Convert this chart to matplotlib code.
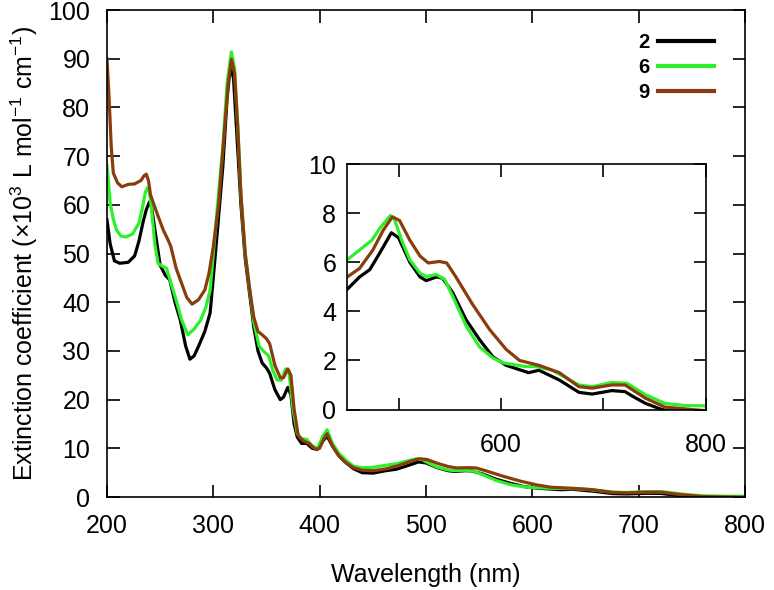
import matplotlib
matplotlib.use("Agg")
import matplotlib.pyplot as plt
import numpy as np

plt.rcParams['font.family'] = ['Liberation Sans', 'DejaVu Sans']
plt.rcParams['mathtext.fontset'] = 'custom'
plt.rcParams['mathtext.rm'] = 'Liberation Sans'
plt.rcParams['mathtext.it'] = 'Liberation Sans:italic'
plt.rcParams['mathtext.bf'] = 'Liberation Sans:bold'

# ---- data (nm, extinction x10^3) ----
wl_2 = [200, 203, 207, 212, 220, 226, 230, 234, 237, 240, 242, 245, 250, 255, 259, 264, 269,
        274, 278, 282, 286, 292, 297, 300, 304, 309, 313, 316, 319, 322, 326, 330, 334, 338,
        342, 346, 350, 353, 358, 363, 366, 370, 373, 376, 379, 383, 388, 393, 398, 403, 407,
        412, 418, 425, 432, 440, 450, 462, 472, 482, 493, 500, 511, 521, 527, 537, 543, 553,
        566, 579, 592, 605, 627, 637, 657, 676, 689, 708, 721, 728, 741, 757, 770, 785, 800]
ext_2 = [56.9, 52.0, 48.5, 48.0, 48.2, 49.5, 52.5, 56.5, 59.0, 60.6, 59.5, 55.0, 47.6, 45.5,
         44.6, 40.0, 36.3, 31.0, 28.3, 29.0, 30.9, 34.0, 37.8, 45.0, 55.0, 68.0, 82.0, 88.4,
         86.0, 75.0, 60.0, 49.0, 42.0, 35.0, 30.0, 27.5, 26.5, 25.4, 22.0, 20.0, 20.5, 22.5,
         21.0, 15.0, 12.3, 11.0, 11.0, 10.0, 9.8, 11.5, 12.5, 10.5, 8.5, 7.0, 5.8, 5.0, 4.9,
         5.4, 5.7, 6.4, 7.2, 7.0, 6.0, 5.4, 5.25, 5.4, 5.35, 4.75, 3.65, 2.85, 2.15, 1.8, 1.5,
         1.6, 1.2, 0.7, 0.63, 0.77, 0.73, 0.55, 0.25, 0.0, -0.1, -0.15, -0.2]

wl_6 = [200, 203, 206, 209, 213, 218, 224, 230, 233, 236, 238, 240, 242, 245, 248, 252, 256,
        260, 265, 270, 276, 282, 288, 293, 297, 300, 304, 309, 313, 317, 320, 323, 326, 330,
        334, 338, 343, 347, 352, 356, 360, 364, 368, 371, 375, 379, 383, 388, 393, 398, 403,
        407, 412, 418, 425, 432, 440, 450, 462, 474, 482, 492, 496, 503, 511, 521, 527, 537,
        545, 553, 566, 579, 592, 602, 624, 634, 650, 676, 689, 708, 723, 741, 760, 780, 800]
ext_6 = [68.2, 60.4, 57.0, 54.8, 53.6, 53.4, 54.0, 56.2, 59.0, 62.5, 63.5, 62.5, 59.0, 52.0,
         48.0, 47.4, 47.0, 44.0, 40.5, 36.5, 33.3, 34.5, 36.3, 39.0, 42.5, 50.0, 60.0, 72.0,
         85.0, 91.4, 88.0, 76.0, 62.0, 50.0, 43.0, 36.0, 31.0, 30.0, 29.0, 26.0, 24.0, 24.0,
         26.3, 26.0, 18.0, 13.0, 12.0, 11.8, 10.5, 10.0, 12.5, 13.8, 11.0, 9.0, 7.5, 6.3, 6.0,
         6.1, 6.5, 6.9, 7.4, 7.9, 7.75, 6.9, 6.1, 5.55, 5.42, 5.5, 5.3, 4.6, 3.4, 2.55, 2.1,
         1.9, 1.75, 1.75, 1.6, 1.0, 0.93, 1.1, 1.07, 0.6, 0.25, 0.16, 0.15]

wl_9 = [200, 202, 204, 206, 210, 214, 220, 226, 232, 235, 237, 239, 241, 247, 253, 257, 260,
        265, 269, 275, 280, 286, 292, 296, 300, 305, 310, 314, 317, 320, 323, 326, 330, 334,
        338, 342, 346, 350, 353, 358, 363, 366, 370, 373, 376, 380, 385, 390, 396, 400, 404,
        407, 412, 418, 425, 432, 440, 450, 462, 475, 485, 494, 501, 511, 521, 529, 540, 547,
        556, 572, 589, 605, 618, 637, 657, 676, 689, 708, 721, 741, 760, 786, 800]
ext_9 = [90.0, 82.0, 72.0, 66.5, 64.5, 63.7, 64.2, 64.3, 65.0, 66.0, 66.3, 65.0, 62.0, 58.3,
         54.8, 53.0, 51.5, 47.0, 44.6, 41.0, 39.6, 40.5, 42.5, 46.0, 51.4, 60.0, 74.0, 85.0,
         89.9, 87.0, 76.0, 62.0, 50.0, 43.0, 37.0, 34.0, 33.3, 32.5, 31.5, 27.0, 24.5, 24.5,
         26.3, 25.0, 18.0, 12.5, 11.5, 11.0, 9.8, 10.0, 12.0, 13.0, 10.5, 8.5, 7.0, 6.0, 5.5,
         5.4, 5.75, 6.5, 7.3, 7.85, 7.7, 6.9, 6.25, 5.97, 6.03, 5.97, 5.4, 4.3, 3.25, 2.45,
         2.0, 1.8, 1.5, 0.93, 0.87, 1.0, 1.0, 0.46, 0.1, 0.0, -0.05]

labels = ['2', '6', '9']
colors = ['#000000', '#2cf02c', '#8b3c0c']
series = [(wl_2, ext_2), (wl_6, ext_6), (wl_9, ext_9)]

fig = plt.figure(figsize=(7.74, 5.9), dpi=100)
ax = fig.add_axes([0.1382, 0.1576, 0.8243, 0.8254])

for (x, y), lab, c in zip(series, labels, colors):
    ax.plot(x, y, color=c, lw=2.3, label=lab)

ax.set_xlim(200, 800)
ax.set_ylim(0, 100)
ax.set_xticks(range(200, 801, 100))
ax.set_yticks(range(0, 101, 10))
ax.tick_params(direction='in', length=9, width=1.2, top=True, right=True, labelsize=18)
ax.tick_params(axis='x', pad=12)
ax.tick_params(axis='y', pad=12)
for s in ax.spines.values():
    s.set_linewidth(1.2)
ax.set_xlabel('Wavelength (nm)', fontsize=18, labelpad=18)
ax.set_ylabel('Extinction coefficient (×10$^{3}$ L mol$^{-1}$ cm$^{-1}$)', fontsize=18, labelpad=6)

leg = ax.legend(loc='upper right', frameon=False, markerfirst=False, fontsize=14.5,
                handlelength=2.8, handletextpad=0.4, labelspacing=0.3,
                bbox_to_anchor=(0.98, 0.99))
for t in leg.get_texts():
    t.set_fontweight('bold')
for h in leg.get_lines():
    h.set_linewidth(3.0)

# inset
ins = fig.add_axes([0.4487, 0.3059, 0.4634, 0.4161])
for (x, y), c in zip(series, colors):
    ins.plot(x, y, color=c, lw=2.3)
ins.set_xlim(450, 800)
ins.set_ylim(0, 10)
ins.set_xticks([500, 600, 700, 800])
ins.set_xticklabels(['', '600', '', '800'])
ins.set_yticks(range(0, 11, 2))
ins.tick_params(direction='in', length=9, width=1.2, top=True, right=True, labelsize=18)
ins.tick_params(axis='x', pad=17)
ins.tick_params(axis='y', pad=8)
for s in ins.spines.values():
    s.set_linewidth(1.2)

fig.savefig('out.png', dpi=100)
